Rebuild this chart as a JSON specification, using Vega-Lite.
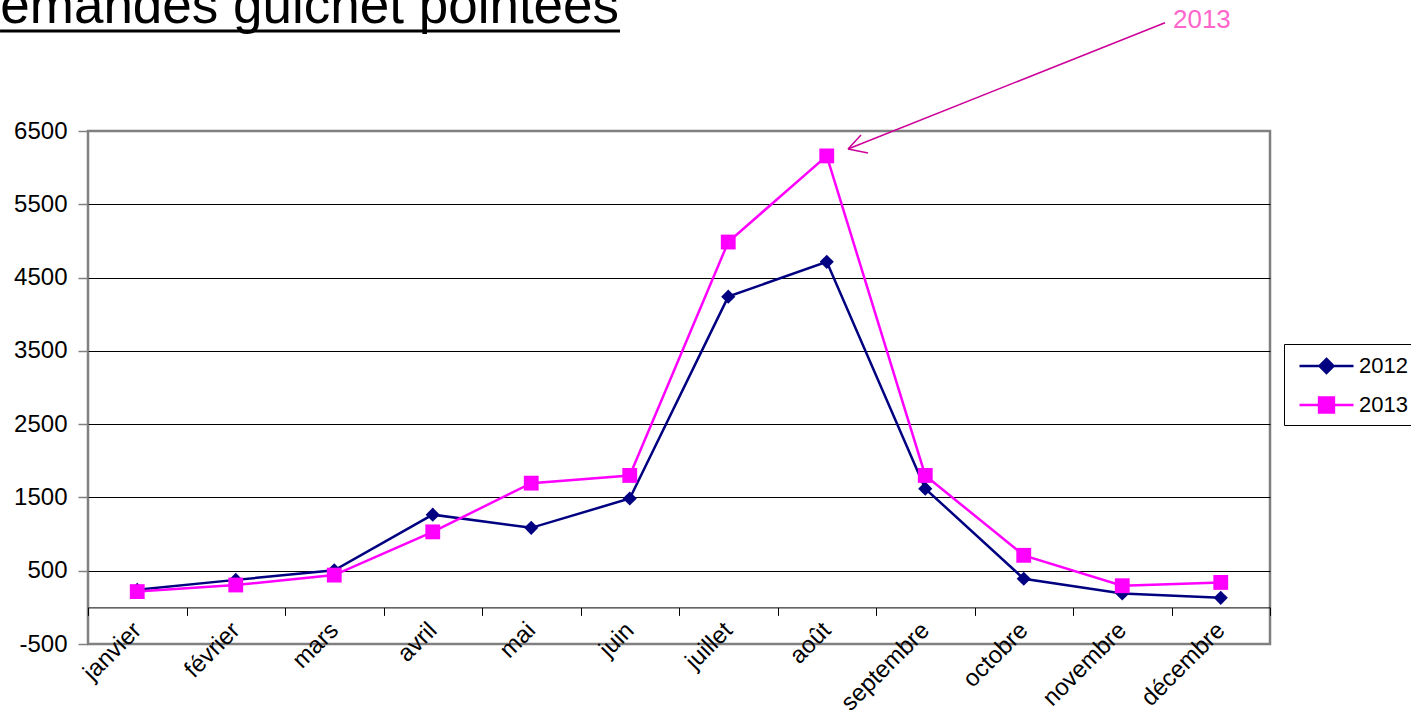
{
  "$schema": "https://vega.github.io/schema/vega-lite/v6.json",
  "width": 1182,
  "height": 513,
  "autosize": {"type": "none"},
  "padding": {"left": 88, "top": 131, "right": 141, "bottom": 74},
  "background": "white",
  "config": {
    "view": {"stroke": "#808080", "strokeWidth": 2.5},
    "font": "Liberation Sans"
  },
  "layer": [
    {
      "data": {
        "values": [
          {"mois": "janvier", "annee": "2012", "valeur": 240},
          {"mois": "février", "annee": "2012", "valeur": 375},
          {"mois": "mars", "annee": "2012", "valeur": 505},
          {"mois": "avril", "annee": "2012", "valeur": 1265},
          {"mois": "mai", "annee": "2012", "valeur": 1085},
          {"mois": "juin", "annee": "2012", "valeur": 1485},
          {"mois": "juillet", "annee": "2012", "valeur": 4240},
          {"mois": "août", "annee": "2012", "valeur": 4715},
          {"mois": "septembre", "annee": "2012", "valeur": 1620},
          {"mois": "octobre", "annee": "2012", "valeur": 390},
          {"mois": "novembre", "annee": "2012", "valeur": 190},
          {"mois": "décembre", "annee": "2012", "valeur": 130},
          {"mois": "janvier", "annee": "2013", "valeur": 215},
          {"mois": "février", "annee": "2013", "valeur": 305},
          {"mois": "mars", "annee": "2013", "valeur": 440},
          {"mois": "avril", "annee": "2013", "valeur": 1030},
          {"mois": "mai", "annee": "2013", "valeur": 1695},
          {"mois": "juin", "annee": "2013", "valeur": 1800},
          {"mois": "juillet", "annee": "2013", "valeur": 4985},
          {"mois": "août", "annee": "2013", "valeur": 6160},
          {"mois": "septembre", "annee": "2013", "valeur": 1800},
          {"mois": "octobre", "annee": "2013", "valeur": 710},
          {"mois": "novembre", "annee": "2013", "valeur": 295},
          {"mois": "décembre", "annee": "2013", "valeur": 340}
        ]
      },
      "encoding": {
        "x": {
          "field": "mois",
          "type": "nominal",
          "sort": ["janvier", "février", "mars", "avril", "mai", "juin", "juillet", "août", "septembre", "octobre", "novembre", "décembre"],
          "scale": {"type": "band", "paddingInner": 0, "paddingOuter": 0},
          "bandPosition": 0.5,
          "axis": {
            "title": null,
            "offset": -36.6,
            "tickBand": "extent",
            "tickSize": 8,
            "tickColor": "black",
            "tickWidth": 1,
            "domainColor": "black",
            "domainWidth": 1,
            "grid": false,
            "labelAngle": -45,
            "labelAlign": "right",
            "labelBaseline": "middle",
            "labelPadding": 11,
            "labelFontSize": 24,
            "labelFont": "Liberation Sans",
            "labelColor": "black",
            "labelOverlap": false
          }
        },
        "y": {
          "field": "valeur",
          "type": "quantitative",
          "scale": {"domain": [-500, 6500], "nice": false, "zero": false},
          "axis": {
            "title": null,
            "values": [-500, 500, 1500, 2500, 3500, 4500, 5500, 6500],
            "labelExpr": "'' + datum.value",
            "domain": false,
            "tickSize": 10,
            "tickColor": "#808080",
            "tickWidth": 1.5,
            "labelPadding": 11,
            "labelFontSize": 24,
            "labelFont": "Liberation Sans",
            "labelColor": "black",
            "gridColor": "black",
            "gridWidth": 1,
            "gridOpacity": {"condition": {"test": "datum.value === 6500 || datum.value === -500", "value": 0}, "value": 1}
          }
        },
        "color": {
          "field": "annee",
          "type": "nominal",
          "scale": {"domain": ["2012", "2013"], "range": ["#000080", "#FF00FF"]},
          "legend": {
            "title": null,
            "orient": "none",
            "legendX": 1196,
            "legendY": 213,
            "strokeColor": "black",
            "padding": 7,
            "symbolSize": 729,
            "symbolOffset": 20.5,
            "symbolStrokeWidth": 2.5,
            "labelOffset": 17.5,
            "labelFontSize": 22,
            "labelFont": "Liberation Sans",
            "labelColor": "black",
            "rowPadding": 11,
            "encode": {
              "symbols": {
                "update": {
                  "shape": {"signal": "datum.value == '2012' ? 'M-2,0H2M0,-0.52L0.52,0L0,0.52L-0.52,0Z' : 'M-2,0H2M-0.55,-0.55H0.55V0.55H-0.55Z'"},
                  "fill": {"scale": "color", "field": "value"},
                  "stroke": {"scale": "color", "field": "value"},
                  "strokeWidth": {"value": 2.5},
                  "fillOpacity": {"value": 1},
                  "strokeOpacity": {"value": 1},
                  "opacity": {"value": 1}
                }
              }
            }
          }
        }
      },
      "layer": [
        {"mark": {"type": "line", "strokeWidth": 2.5}},
        {
          "transform": [{"filter": "datum.annee === '2012'"}],
          "mark": {"type": "point", "shape": "diamond", "filled": true, "opacity": 1, "size": 200}
        },
        {
          "transform": [{"filter": "datum.annee === '2013'"}],
          "mark": {"type": "point", "shape": "square", "filled": true, "opacity": 1, "size": 220}
        }
      ]
    },
    {
      "data": {"values": [{}]},
      "layer": [
        {
          "mark": {"type": "text", "text": "Demandes guichet pointées", "fontSize": 53, "font": "Liberation Sans", "color": "black", "align": "left", "baseline": "alphabetic"},
          "encoding": {
            "x": {"datum": -1.279, "type": "quantitative", "scale": {"domain": [0, 12]}, "axis": null},
            "y": {"datum": 7974, "type": "quantitative", "scale": {"domain": [-500, 6500], "nice": false, "zero": false}, "axis": null}
          }
        },
        {
          "mark": {"type": "rule", "color": "black", "strokeWidth": 3},
          "encoding": {
            "x": {"datum": -0.893, "type": "quantitative", "scale": {"domain": [0, 12]}, "axis": null},
            "x2": {"datum": 5.401},
            "y": {"datum": 7864, "type": "quantitative", "scale": {"domain": [-500, 6500], "nice": false, "zero": false}, "axis": null}
          }
        },
        {
          "mark": {"type": "rule", "color": "#CC0099", "strokeWidth": 1.5},
          "encoding": {
            "x": {"datum": 10.934, "type": "quantitative", "scale": {"domain": [0, 12]}, "axis": null},
            "x2": {"datum": 7.716},
            "y": {"datum": 7978, "type": "quantitative", "scale": {"domain": [-500, 6500], "nice": false, "zero": false}, "axis": null},
            "y2": {"datum": 6254}
          }
        },
        {
          "mark": {"type": "rule", "color": "#CC0099", "strokeWidth": 1.5},
          "encoding": {
            "x": {"datum": 7.716, "type": "quantitative", "scale": {"domain": [0, 12]}, "axis": null},
            "x2": {"datum": 7.848},
            "y": {"datum": 6254, "type": "quantitative", "scale": {"domain": [-500, 6500], "nice": false, "zero": false}, "axis": null},
            "y2": {"datum": 6445}
          }
        },
        {
          "mark": {"type": "rule", "color": "#CC0099", "strokeWidth": 1.5},
          "encoding": {
            "x": {"datum": 7.716, "type": "quantitative", "scale": {"domain": [0, 12]}, "axis": null},
            "x2": {"datum": 7.919},
            "y": {"datum": 6254, "type": "quantitative", "scale": {"domain": [-500, 6500], "nice": false, "zero": false}, "axis": null},
            "y2": {"datum": 6200}
          }
        },
        {
          "mark": {"type": "text", "text": "2013", "fontSize": 26, "font": "Liberation Sans", "color": "#FF66CC", "align": "left", "baseline": "alphabetic"},
          "encoding": {
            "x": {"datum": 11.015, "type": "quantitative", "scale": {"domain": [0, 12]}, "axis": null},
            "y": {"datum": 7905, "type": "quantitative", "scale": {"domain": [-500, 6500], "nice": false, "zero": false}, "axis": null}
          }
        }
      ]
    }
  ],
  "resolve": {"scale": {"x": "independent", "y": "independent"}}
}
